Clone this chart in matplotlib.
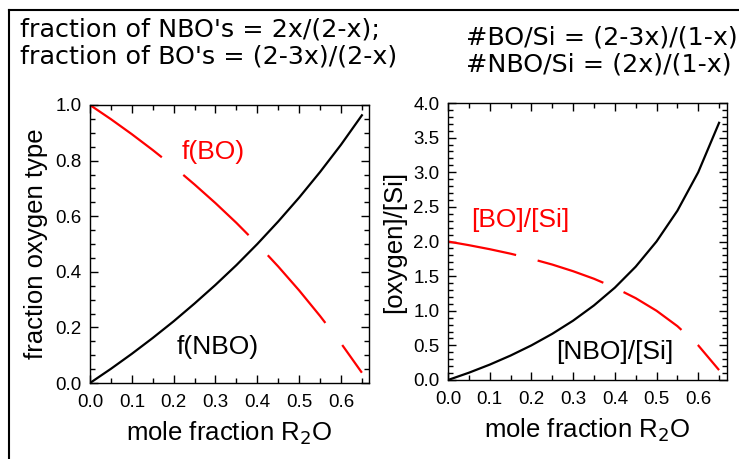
import matplotlib
matplotlib.use("Agg")
import matplotlib.pyplot as plt
from matplotlib.lines import Line2D
from matplotlib.ticker import MultipleLocator

x_frac = [0.0, 0.05, 0.10, 0.15, 0.20, 0.25, 0.30, 0.35, 0.40, 0.45, 0.50, 0.55, 0.60, 0.65]
f_nbo = [0.0, 0.051, 0.105, 0.162, 0.222, 0.286, 0.353, 0.424, 0.500, 0.581, 0.667, 0.759, 0.857, 0.963]
f_bo = [1.0, 0.949, 0.895, 0.838, 0.778, 0.714, 0.647, 0.576, 0.500, 0.419, 0.333, 0.241, 0.143, 0.037]
nbo_si = [0.0, 0.105, 0.222, 0.353, 0.500, 0.667, 0.857, 1.077, 1.333, 1.636, 2.000, 2.444, 3.000, 3.714]
bo_si = [2.0, 1.947, 1.889, 1.824, 1.750, 1.667, 1.571, 1.462, 1.333, 1.182, 1.000, 0.778, 0.500, 0.143]

top_left = "fraction of NBO's = 2x/(2-x);\nfraction of BO's = (2-3x)/(2-x)"
top_right = "#BO/Si = (2-3x)/(1-x)\n#NBO/Si = (2x)/(1-x)"

plt.rcParams['font.family'] = ['Liberation Sans', 'DejaVu Sans']
plt.rcParams['lines.scale_dashes'] = False

fig = plt.figure(figsize=(7.39, 4.59), dpi=100)

# partial frame (left and top edges of the original panel)
fig.add_artist(Line2D([9 / 739, 9 / 739], [0, 1 - 10 / 459], color='black', lw=1.5))
fig.add_artist(Line2D([9 / 739, 1], [1 - 10 / 459, 1 - 10 / 459], color='black', lw=1.5))

head_font = ['DejaVu Sans']
fig.text(20 / 739, 1 - 17 / 459, top_left, ha='left', va='top', fontsize=18.3,
         family=head_font, linespacing=1.2)
fig.text(466 / 739, 1 - 25 / 459, top_right, ha='left', va='top', fontsize=18.3,
         family=head_font, linespacing=1.2)

ax1 = fig.add_axes([90 / 739, 1 - 383 / 459, 279 / 739, 278 / 459])
ax2 = fig.add_axes([448 / 739, 1 - 380 / 459, 279 / 739, 277 / 459])

ax1.plot(x_frac, f_nbo, color='black', lw=1.6)
ax1.plot(x_frac, f_bo, color='red', lw=1.6, linestyle=(0, (64, 20)))
ax1.set_xlim(0, 0.667)
ax1.set_ylim(0, 1.0)
ax1.yaxis.set_major_locator(MultipleLocator(0.2))
ax1.yaxis.set_minor_locator(MultipleLocator(0.05))
ax1.set_ylabel("fraction oxygen type", fontsize=18.5, labelpad=5)
ax1.text(0.295, 0.83, "f(BO)", color='red', fontsize=19, ha='center', va='center')
ax1.text(0.306, 0.13, "f(NBO)", color='black', fontsize=19, ha='center', va='center')

ax2.plot(x_frac, nbo_si, color='black', lw=1.6)
ax2.plot(x_frac, bo_si, color='red', lw=1.6, linestyle=(0, (50, 16)))
ax2.set_xlim(0, 0.669)
ax2.set_ylim(0, 4.0)
ax2.yaxis.set_major_locator(MultipleLocator(0.5))
ax2.yaxis.set_minor_locator(MultipleLocator(0.1))
ax2.set_ylabel("[oxygen]/[Si]", fontsize=18.5, labelpad=5)
ax2.text(0.173, 2.31, "[BO]/[Si]", color='red', fontsize=19, ha='center', va='center')
ax2.text(0.40, 0.40, "[NBO]/[Si]", color='black', fontsize=19, ha='center', va='center')

for ax in (ax1, ax2):
    ax.xaxis.set_major_locator(MultipleLocator(0.1))
    ax.xaxis.set_minor_locator(MultipleLocator(0.05))
    ax.xaxis.set_major_formatter(plt.FormatStrFormatter('%.1f'))
    ax.yaxis.set_major_formatter(plt.FormatStrFormatter('%.1f'))
    ax.tick_params(which='both', direction='in', top=True, right=True, labelsize=13.5, width=1)
    ax.tick_params(which='major', length=6)
    ax.tick_params(axis='x', which='major', pad=8)
    ax.tick_params(axis='y', which='major', pad=6)
    ax.tick_params(which='minor', length=3.5)
    ax.set_xlabel("mole fraction R$_2$O", fontsize=18.5, labelpad=6)
    for s in ax.spines.values():
        s.set_linewidth(1)

fig.savefig("out.png", dpi=100)
